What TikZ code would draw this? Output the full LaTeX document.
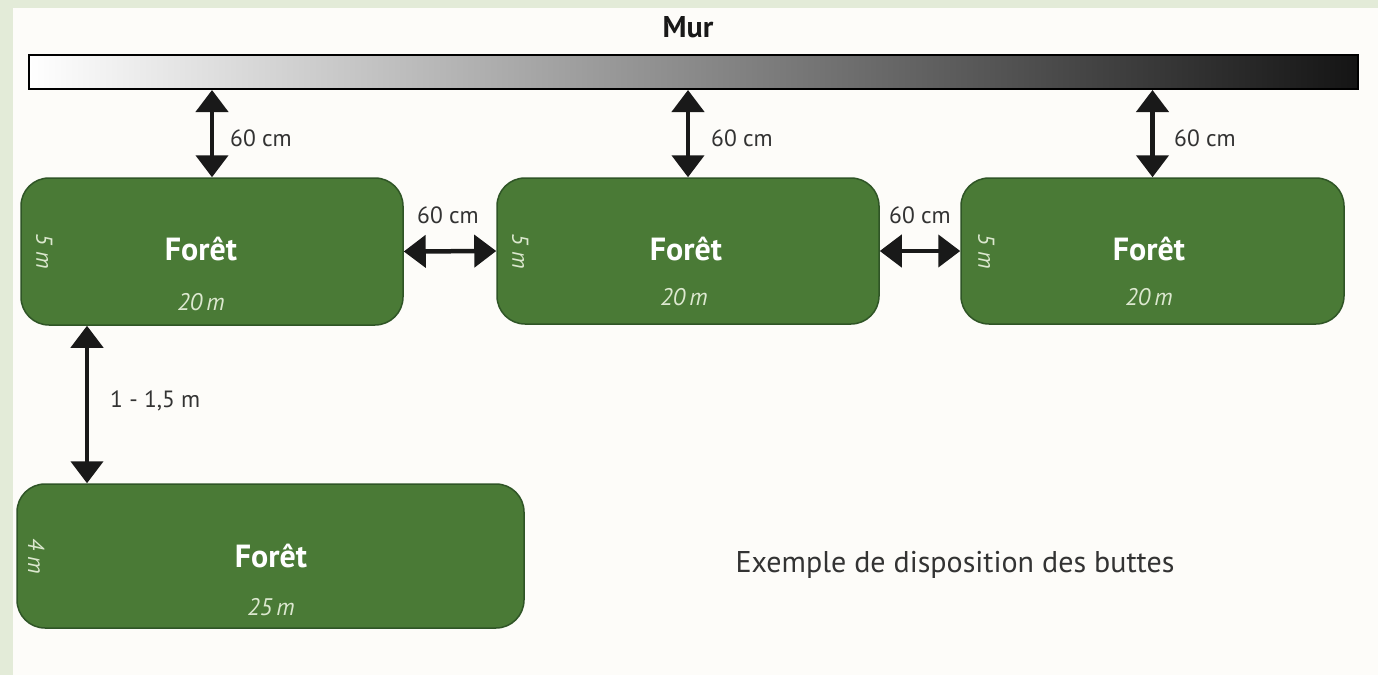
\documentclass[tikz,border=0pt]{standalone}
\usepackage{fontspec}
\setmainfont{PT Sans}
\usetikzlibrary{arrows.meta}
\definecolor{bggreen}{HTML}{E3EBD8}
\definecolor{paper}{HTML}{FDFCF9}
\definecolor{forest}{HTML}{4A7A36}
\definecolor{forestline}{HTML}{2F5526}
\definecolor{lbl}{HTML}{DCE8CF}
\definecolor{txt}{HTML}{333333}
\begin{document}
\begin{tikzpicture}[x=1pt,y=-1pt,
  butte/.style={draw=forestline, line width=1.5pt, fill=forest, rounded corners=28pt, inner sep=0pt},
  dimarrow/.style={line width=4.5pt, black!90, {Triangle[width=32pt,length=22pt]}-{Triangle[width=32pt,length=22pt]}},
  titre/.style={text=white, font=\bfseries\fontsize{32}{36}\selectfont, inner sep=0pt, anchor=base},
  longueur/.style={text=lbl, font=\itshape\fontsize{24}{28}\selectfont, inner sep=0pt, anchor=base},
  largeur/.style={text=lbl, font=\itshape\fontsize{23}{28}\selectfont, inner sep=0pt, rotate=-90},
  cote/.style={text=txt, font=\fontsize{23.5}{28}\selectfont, inner sep=0pt}
]
\useasboundingbox (0,0) rectangle (1378,675);
\fill[bggreen] (0,0) rectangle (1378,675);
\fill[paper] (13,8) rectangle (1378,675);

% wall
\node[draw=black, line width=2pt, left color=white, right color=black!92, minimum width=1329pt, minimum height=34pt, inner sep=0pt] (wall) at (693.5,72) {};
\node[font=\bfseries\fontsize{30}{34}\selectfont, text=black!90, inner sep=0pt] (mur) at (688,27) {Mur};

% buttes
\node[butte, minimum width=382pt, minimum height=147pt] (b1) at (212,251.5) {};
\node[butte, minimum width=382pt, minimum height=146pt] (b2) at (688,251) {};
\node[butte, minimum width=383pt, minimum height=146pt] (b3) at (1152.5,251) {};
\node[butte, minimum width=507pt, minimum height=144pt] (b4) at (270.5,556) {};

\node[titre] (t1) at (201,260) {Forêt};
\node[titre] (t2) at (686,260) {Forêt};
\node[titre] (t3) at (1149,260) {Forêt};
\node[titre] (t4) at (271,567) {Forêt};

\node[longueur] (l1) at (201,310) {20\,m};
\node[longueur] (l2) at (684,305) {20\,m};
\node[longueur] (l3) at (1149,305) {20\,m};
\node[longueur] (l4) at (271,615) {25\,m};

\node[largeur] (w1) at ([xshift=24pt]b1.west) {5 m};
\node[largeur] (w2) at ([xshift=24pt]b2.west) {5 m};
\node[largeur] (w3) at ([xshift=26pt]b3.west) {5 m};
\node[largeur] (w4) at ([xshift=20pt]b4.west) {4 m};

% dimension arrows
\draw[dimarrow] (b1.north |- wall.south) -- (b1.north);
\draw[dimarrow] (b2.north |- wall.south) -- (b2.north);
\draw[dimarrow] (b3.north |- wall.south) -- (b3.north);
\node[cote, anchor=west] (c1) at (230,138) {60 cm};
\node[cote, anchor=west] (c2) at (711,138) {60 cm};
\node[cote, anchor=west] (c3) at (1174,138) {60 cm};

\draw[dimarrow] (b1.east) -- (b2.west);
\draw[dimarrow] (b2.east) -- (b3.west);
\node[cote] (c4) at (448,215) {60 cm};
\node[cote] (c5) at (920,215) {60 cm};

\coordinate (p1) at (87,325);
\draw[dimarrow] (b1.south -| p1) -- (b4.north -| p1);
\node[cote, anchor=west] (c6) at (110,401) {1 - 1,5 m};

\node[text=txt, font=\fontsize{30}{34}\selectfont, inner sep=0pt] (leg) at (955,565) {Exemple de disposition des buttes};
\end{tikzpicture}
\end{document}
